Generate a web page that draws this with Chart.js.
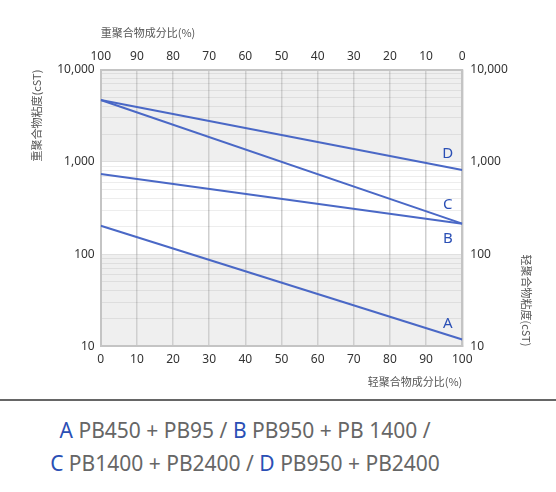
<!DOCTYPE html>
<html lang="zh">
  <head>
    <meta charset="UTF-8" />
    <title>聚合物混合粘度</title>
    <style>
      body {
        margin: 0;
        background: #fff;
        font-family: "Noto Sans", sans-serif;
      }
      .wrap {
        position: relative;
        width: 556px;
        height: 392px;
      }
      .sep {
        border: 0;
        border-top: 2px solid #666;
        margin: 7px 0 0 0;
      }
      .legend {
        text-align: center;
        font-size: 21px;
        color: #666;
        line-height: 33px;
        margin-top: 13px;
        padding-right: 66px;
      }
      .legend span {
        color: #2a4fb5;
      }
    </style>
    <script src="https://cdn.jsdelivr.net/npm/chart.js"></script>
  </head>
  <body>
    <div class="wrap"><canvas id="viscChart"></canvas></div>
    <hr class="sep" />
    <div class="legend">
      <span>A</span> PB450 + PB95 / <span>B</span> PB950 + PB 1400 /<br />
      <span>C</span> PB1400 + PB2400 / <span>D</span> PB950 + PB2400
    </div>
    <script>
      // light polymer share (%), bottom axis
      const lightShare = [0, 100];
      const seriesA = [203, 11.9];
      const seriesB = [738, 214];
      const seriesC = [4680, 214];
      const seriesD = [4680, 817];
      const seriesNames = ["A", "B", "C", "D"];
      // where the letters sit, in data units
      const nameX = [96, 96, 96, 96];
      const nameY = [17.5, 146, 345, 1225];
      const xTicks = [0, 10, 20, 30, 40, 50, 60, 70, 80, 90, 100];
      const yLabels = [10, 100, 1000, 10000];
      const grayBands = [[10, 100], [1000, 10000]];

      const lineColor = "#4a68c6";
      const tickFont = { family: "Noto Sans", size: 12 };
      const titleFont = { family: "Noto Sans CJK SC", size: 11 };

      // every 1..9 x 10^n between 10 and 10000, for minor grid lines
      const logTicks = [];
      for (let e = 1; e <= 3; e++) {
        for (let s = 1; s <= 9; s++) logTicks.push(s * Math.pow(10, e));
      }
      logTicks.push(10000);

      const allSeries = [seriesA, seriesB, seriesC, seriesD];
      const datasets = allSeries.map((vals, i) => ({
        label: seriesNames[i],
        data: vals.map((v, j) => ({ x: lightShare[j], y: v })),
        borderColor: lineColor,
        borderWidth: 2,
        pointRadius: 0,
        fill: false,
        tension: 0
      }));

      const bandPlugin = {
        id: "bands",
        beforeDraw(chart) {
          const { ctx, chartArea, scales } = chart;
          ctx.save();
          ctx.fillStyle = "#efefef";
          grayBands.forEach(b => {
            const y1 = scales.y.getPixelForValue(b[1]);
            const y0 = scales.y.getPixelForValue(b[0]);
            ctx.fillRect(chartArea.left, y1, chartArea.right - chartArea.left, y0 - y1);
          });
          ctx.restore();
        }
      };

      const namePlugin = {
        id: "names",
        afterDatasetsDraw(chart) {
          const { ctx, scales } = chart;
          ctx.save();
          ctx.fillStyle = "#2a4fb5";
          ctx.font = "15px 'Noto Sans'";
          ctx.textAlign = "center";
          ctx.textBaseline = "middle";
          seriesNames.forEach((n, i) => {
            ctx.fillText(n, scales.x.getPixelForValue(nameX[i]), scales.y.getPixelForValue(nameY[i]));
          });
          ctx.restore();
        }
      };

      const setLogTicks = scale => {
        scale.ticks = logTicks.map(v => ({ value: v, major: yLabels.includes(v) }));
      };
      const logLabel = v => (yLabels.includes(v) ? v.toLocaleString("en-US") : "");

      let ctx = document.getElementById("viscChart").getContext("2d");
      let myChart = new Chart(ctx, {
        type: "line",
        data: { datasets: datasets },
        plugins: [bandPlugin, namePlugin],
        options: {
          responsive: true,
          maintainAspectRatio: false,
          animation: false,
          layout: { padding: { left: 26, right: 19, top: 22, bottom: 0 } },
          plugins: { legend: { display: false }, tooltip: { enabled: false } },
          scales: {
            x: {
              type: "linear",
              position: "bottom",
              min: 0,
              max: 100,
              afterBuildTicks: s => { s.ticks = xTicks.map(v => ({ value: v })); },
              grid: { color: "#cfcfcf", lineWidth: 1.5, drawTicks: false },
              border: { color: "#c4c4c4", width: 2 },
              ticks: { font: tickFont, color: "#333", padding: 6 },
              title: { display: true, text: "轻聚合物成分比(%)", align: "end", font: titleFont, color: "#555", padding: { top: 2 } }
            },
            x2: {
              // heavy share = 100 - light share
              type: "linear",
              position: "top",
              min: 0,
              max: 100,
              afterBuildTicks: s => { s.ticks = xTicks.map(v => ({ value: v })); },
              grid: { drawOnChartArea: false, drawTicks: false },
              border: { color: "#c4c4c4", width: 2 },
              ticks: { font: tickFont, color: "#333", padding: 6, callback: v => 100 - v },
              title: { display: true, text: "重聚合物成分比(%)", align: "start", font: titleFont, color: "#555", padding: { bottom: 4 } }
            },
            y: {
              type: "logarithmic",
              position: "left",
              min: 10,
              max: 10000,
              afterBuildTicks: setLogTicks,
              grid: { color: "rgba(0,0,0,0.07)", lineWidth: 1, drawTicks: false },
              border: { color: "#c4c4c4", width: 2 },
              ticks: { autoSkip: false, font: tickFont, color: "#333", padding: 6, callback: logLabel },
              title: { display: true, text: "重聚合物粘度(cST)", align: "end", font: titleFont, color: "#555", padding: { bottom: 8 } }
            },
            y2: {
              type: "logarithmic",
              position: "right",
              min: 10,
              max: 10000,
              afterBuildTicks: setLogTicks,
              grid: { drawOnChartArea: false, drawTicks: false },
              border: { color: "#c4c4c4", width: 2 },
              ticks: { autoSkip: false, font: tickFont, color: "#333", padding: 8, callback: logLabel },
              title: { display: true, text: "轻聚合物粘度(cST)", align: "start", font: titleFont, color: "#555", padding: { top: 4 } }
            }
          }
        }
      });
    </script>
  </body>
</html>
